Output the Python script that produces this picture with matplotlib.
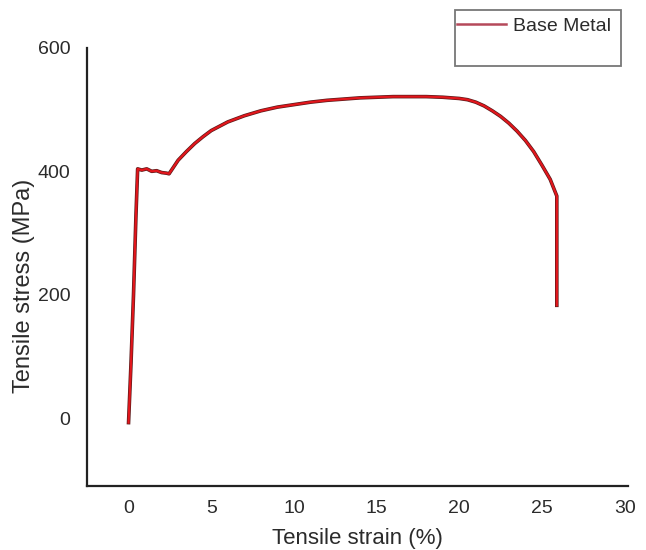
import matplotlib
matplotlib.use("Agg")
import matplotlib.pyplot as plt
from matplotlib.lines import Line2D
from matplotlib.patches import Rectangle

plt.rcParams["font.family"] = ["Liberation Sans", "DejaVu Sans"]

# values
strain = [0.0, 0.15, 0.3, 0.45, 0.55, 0.8, 1.1, 1.4, 1.7, 2.0, 2.3, 2.45,
          3.0, 3.5, 4.0, 4.5, 5.0, 6.0, 7.0, 8.0, 9.0, 10.0, 11.0, 12.0,
          13.0, 14.0, 15.0, 16.0, 17.0, 18.0, 19.0, 20.0, 20.5, 21.0, 21.5,
          22.0, 22.5, 23.0, 23.5, 24.0, 24.5, 25.0, 25.5, 25.9, 25.9]
stress = [-7, 90, 200, 330, 404, 402, 404, 400, 401, 398, 397, 396,
          418, 432, 445, 456, 466, 480, 490, 498, 504, 508, 512, 515,
          517, 519, 520, 521, 521, 521, 520, 518, 516, 512, 506,
          498, 489, 478, 465, 450, 432, 410, 387, 360, 183]
x_ticks = [0, 5, 10, 15, 20, 25, 30]
y_ticks = [0, 200, 400, 600]
series_name = "Base Metal"

INK = "#2b2b2b"
W, H = 646, 550
fig = plt.figure(figsize=(W / 100, H / 100), dpi=100)
ax = fig.add_axes([0.135, 0.116, 0.837, 0.797])

ax.plot(strain, stress, color="#5a1a1a", lw=2.6, solid_joinstyle="round")
ax.plot(strain, stress, color="#e2161c", lw=1.6, solid_joinstyle="round")

ax.set_xlim(-2.5, 30.2)
ax.set_ylim(-110, 600)
ax.set_xticks(x_ticks)
ax.set_yticks(y_ticks)
ax.tick_params(length=0, labelsize=14, colors=INK)
ax.tick_params(axis="x", pad=10)
ax.tick_params(axis="y", pad=12)
for s in ("top", "right"):
    ax.spines[s].set_visible(False)
for s in ("left", "bottom"):
    ax.spines[s].set_color("#222222")
    ax.spines[s].set_linewidth(1.6)

ax.set_xlabel("Tensile strain (%)", fontsize=16, color=INK, labelpad=8)
ax.set_ylabel("Tensile stress (MPa)", fontsize=17, color=INK)
ax.yaxis.set_label_coords(-0.096, 0.457)

# legend: entry near the top of a taller box, as in the reference
handle = Line2D([], [], color="#b5495a", lw=1.8, label=series_name)
leg = fig.legend(handles=[handle], loc="upper left",
                 bbox_to_anchor=(457 / W, 1 - 17 / H), fontsize=14,
                 frameon=False, borderaxespad=0, borderpad=0,
                 handlelength=2.5, handletextpad=0.4)
for t in leg.get_texts():
    t.set_color(INK)
fig.add_artist(Rectangle((455 / W, 1 - 66 / H), 166 / W, 56 / H,
                         transform=fig.transFigure, fill=False,
                         edgecolor="#777777", lw=1.3))

fig.savefig("out.png", dpi=100, facecolor="white")
